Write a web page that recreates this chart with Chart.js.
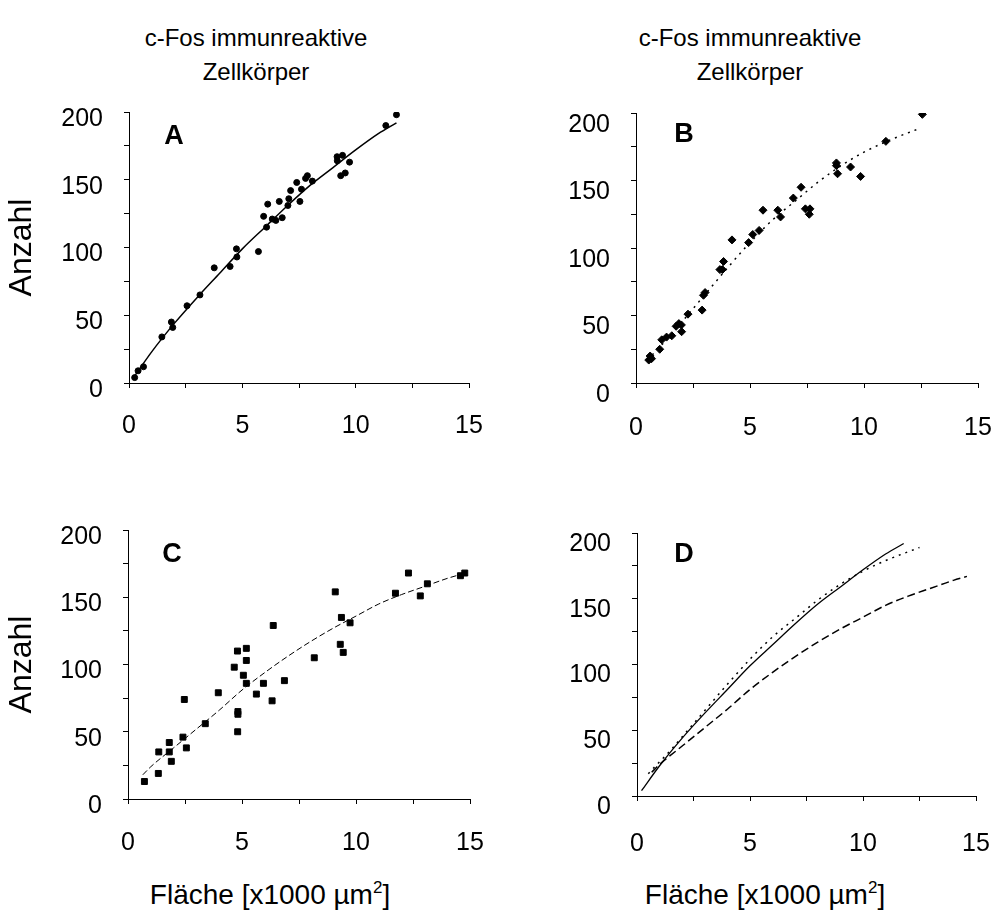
<!DOCTYPE html>
<html lang="de">
<head>
    <meta charset="UTF-8">
    <title>c-Fos immunreaktive Zellkörper</title>
    <script src="https://cdn.jsdelivr.net/npm/chart.js"></script>
    <style>
        body {
            margin: 0;
            background: #fff;
            color: #000;
            font-family: "Liberation Sans", Arial, sans-serif;
        }
        #page {
            position: relative;
            width: 996px;
            height: 915px;
            overflow: hidden;
        }
        canvas {
            position: absolute;
        }
        .title {
            position: absolute;
            width: 300px;
            text-align: center;
            font-size: 24px;
            line-height: 34px;
        }
        .xtitle {
            position: absolute;
            width: 340px;
            text-align: center;
            font-size: 28px;
            line-height: 30px;
            white-space: nowrap;
        }
        .xtitle sup {
            font-size: 17px;
            line-height: 0;
            vertical-align: 11px;
        }
    </style>
</head>
<body>
<div id="page">
    <div class="title" style="left:106px; top:21px;">c-Fos immunreaktive<br>Zellkörper</div>
    <div class="title" style="left:600px; top:21px;">c-Fos immunreaktive<br>Zellkörper</div>

    <canvas id="chartA" width="498" height="370" style="left:0; top:95px;"></canvas>
    <canvas id="chartB" width="498" height="370" style="left:498px; top:95px;"></canvas>
    <canvas id="chartC" width="498" height="380" style="left:0; top:490px;"></canvas>
    <canvas id="chartD" width="498" height="380" style="left:498px; top:490px;"></canvas>

    <div class="xtitle" style="left:100px; top:880px;">Fläche [x1000 µm<sup>2</sup>]</div>
    <div class="xtitle" style="left:595px; top:880px;">Fläche [x1000 µm<sup>2</sup>]</div>
</div>

<script>
    // measured points, panel A (circles)
    const aX = [0.25, 0.4, 0.64, 1.45, 1.87, 1.93, 2.56, 3.13, 3.76, 4.46, 4.74, 4.76, 5.71, 5.94, 6.12, 6.07, 6.32, 6.48, 6.63, 6.76,
                7.01, 7.05, 7.13, 7.4, 7.54, 7.61, 7.79, 7.87, 8.09, 9.18, 9.19, 9.34, 9.42, 9.54, 9.73, 11.33, 11.8];
    const aY = [4, 9, 12, 34, 45, 41, 57, 65, 85, 86, 99, 93, 97, 123, 132, 115, 121, 120, 134, 122,
                131, 136, 142, 148, 134, 143, 151, 153, 149, 167, 164, 153, 168, 155, 163, 190, 198];

    // panel B (diamonds)
    const bX = [0.56, 0.62, 0.68, 1.04, 1.13, 1.34, 1.57, 1.76, 1.88, 1.99, 2.0, 2.28, 2.9, 2.96, 3.03, 3.68, 3.79, 3.84, 4.21, 4.94,
                5.12, 5.4, 5.57, 6.22, 6.34, 6.9, 7.24, 7.43, 7.63, 7.6, 8.79, 8.79, 8.84, 9.41, 9.85, 10.96, 12.56];
    const bY = [17, 20, 18, 25, 32, 34, 35, 42, 44, 43, 38, 51, 54, 65, 67, 84, 84, 90, 106, 104,
                110, 113, 128, 128, 123, 137, 145, 129, 129, 125, 163, 161, 155, 160, 153, 179, 199];

    // panel C (squares)
    const cX = [0.72, 1.33, 1.35, 1.81, 1.81, 1.9, 2.41, 2.47, 2.56, 3.39, 3.96, 4.66, 4.8, 4.81, 4.82, 4.82, 5.06, 5.19, 5.19, 5.19,
                5.63, 5.94, 6.32, 6.37, 6.86, 8.17, 9.09, 9.31, 9.36, 9.44, 9.74, 11.73, 12.3, 12.82, 13.13, 14.58, 14.77];
    const cY = [13, 19, 35, 42, 35, 28, 46, 74, 38, 56, 79, 98, 110, 50, 65, 63, 92, 112, 103, 86,
                78, 86, 73, 129, 88, 105, 154, 115, 135, 109, 131, 153, 168, 151, 160, 166, 168];

    // fitted curves
    const fitAX = [0.2, 1, 2, 3, 4, 5, 6, 7, 8, 9, 10, 11, 11.8];
    const fitAY = [4, 23, 44, 63, 81, 99, 115, 131, 146, 159, 172, 184, 192];
    const fitBX = [0.5, 1, 1.5, 2, 3, 4, 5, 6, 7, 8, 9, 10, 11, 12.5];
    const fitBY = [17, 26, 35, 45, 65, 85, 104, 121, 135, 149, 161, 171, 179, 189];
    const fitCX = [0.65, 1, 2, 3, 4, 5, 6, 7, 8, 9, 10, 11, 12, 13, 14, 14.6];
    const fitCY = [18, 24, 38, 52, 66, 81, 94, 106, 117, 127, 136, 145, 152, 158, 164, 167];

    // axis ticks
    const xTicks = [0, 5, 10, 15];
    const yTicks = [0, 50, 100, 150, 200];

    const FONT = '"Liberation Sans", Arial, sans-serif';
    Chart.defaults.font.family = FONT;
    Chart.defaults.color = '#000';

    const pts = (xs, ys) => xs.map((x, i) => ({ x: x, y: ys[i] }));

    function points(xs, ys, style, radius) {
        return {
            data: pts(xs, ys),
            showLine: false,
            pointStyle: style,
            pointRadius: radius,
            pointBackgroundColor: '#000',
            pointBorderColor: '#000',
            pointBorderWidth: 1
        };
    }

    function curve(xs, ys, dash, width) {
        return {
            data: pts(xs, ys),
            showLine: true,
            pointRadius: 0,
            borderColor: '#000',
            borderWidth: width,
            borderDash: dash,
            cubicInterpolationMode: 'monotone',
            fill: false
        };
    }

    // big bold letter in the corner of each panel
    const panelLabel = {
        id: 'panelLabel',
        afterDraw(chart, args, opts) {
            const { ctx, chartArea } = chart;
            ctx.save();
            ctx.font = 'bold 27px ' + FONT;
            ctx.fillStyle = '#000';
            ctx.textAlign = 'center';
            ctx.textBaseline = 'middle';
            ctx.fillText(opts.text, chartArea.left + opts.dx, chartArea.top + opts.dy);
            ctx.restore();
        }
    };

    function makeChart(id, datasets, p) {
        return new Chart(document.getElementById(id), {
            type: 'scatter',
            data: { datasets: datasets },
            plugins: [panelLabel],
            options: {
                responsive: false,
                animation: false,
                layout: { padding: { top: p.top, right: p.right, left: 0, bottom: 0 } },
                plugins: {
                    legend: { display: false },
                    tooltip: { enabled: false },
                    panelLabel: { text: p.letter, dx: p.dx, dy: p.dy }
                },
                scales: {
                    x: {
                        type: 'linear',
                        min: 0,
                        max: 15,
                        // fixed box so the plot area lands where the original has it
                        afterFit: s => { s.height = p.xh; s.paddingLeft = 0; s.paddingRight = 0; },
                        border: { display: true, color: '#000', width: 1 },
                        grid: { drawOnChartArea: false, drawTicks: true, tickLength: 5, color: '#000' },
                        ticks: {
                            stepSize: 2.5,
                            autoSkip: false,
                            maxRotation: 0,
                            padding: p.xpad,
                            font: { size: 25 },
                            callback: v => (xTicks.includes(v) ? v : '')
                        }
                    },
                    y: {
                        type: 'linear',
                        min: 0,
                        max: 200,
                        afterFit: s => { s.width = p.yw; s.paddingTop = 0; s.paddingBottom = 0; },
                        border: { display: true, color: '#000', width: 1 },
                        grid: { drawOnChartArea: false, drawTicks: true, tickLength: 5, color: '#000' },
                        title: {
                            display: p.ytitle,
                            text: 'Anzahl',
                            font: { size: 32 },
                            padding: { top: 3, bottom: 0 }
                        },
                        ticks: {
                            stepSize: 25,
                            autoSkip: false,
                            padding: 21,
                            labelOffset: p.yoff,
                            font: { size: 25 },
                            callback: v => (yTicks.includes(v) ? v : '')
                        }
                    }
                }
            }
        });
    }

    makeChart('chartA', [
        points(aX, aY, 'circle', 3),
        curve(fitAX, fitAY, [], 1.5)
    ], { top: 17, right: 29, yw: 129, xh: 82, xpad: 23, yoff: 7, ytitle: true, letter: 'A', dx: 45, dy: 25 });

    makeChart('chartB', [
        points(bX, bY, 'rectRot', 4),
        curve(fitBX, fitBY, [2, 5], 1.5)
    ], { top: 18, right: 18, yw: 138, xh: 82, xpad: 25, yoff: 12, ytitle: false, letter: 'B', dx: 48, dy: 22 });

    makeChart('chartC', [
        points(cX, cY, 'rect', 4.2),
        curve(fitCX, fitCY, [6, 3], 1)
    ], { top: 40, right: 28, yw: 128, xh: 71, xpad: 24, yoff: 7, ytitle: true, letter: 'C', dx: 44, dy: 25 });

    makeChart('chartD', [
        curve(fitAX, fitAY, [], 1.3),
        curve(fitBX, fitBY, [2, 5], 1.5),
        curve(fitCX, fitCY, [8, 4], 1.5)
    ], { top: 43, right: 20, yw: 139, xh: 74, xpad: 28, yoff: 11, ytitle: false, letter: 'D', dx: 47, dy: 22 });
</script>
</body>
</html>
